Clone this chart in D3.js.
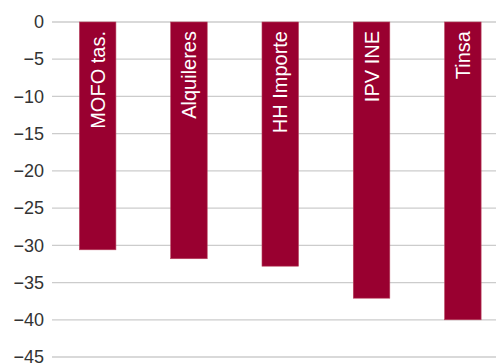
<!DOCTYPE html>
<html><head><meta charset="utf-8">
<script src="https://cdn.jsdelivr.net/npm/d3@7"></script>
<style>body{margin:0;background:#fff}svg{display:block}</style>
</head><body>
<svg id="c" width="496" height="363"></svg>
<script>
const categories = ["MOFO tas.", "Alquileres", "HH Importe", "IPV INE", "Tinsa"];
const values = [-30.6, -31.8, -32.8, -37.1, -40.0];
const yTicks = [0, -5, -10, -15, -20, -25, -30, -35, -40, -45];

const svg = d3.select("#c");
const W = 496;
const y = d3.scaleLinear().domain([0, -45]).range([22, 357]);
const x = d3.scaleBand().domain(categories).range([52, 508.5]).paddingInner(0.6).paddingOuter(0.3);

svg.append("g").selectAll("line").data(yTicks).join("line")
  .attr("x1", 52).attr("x2", W)
  .attr("y1", d => y(d)).attr("y2", d => y(d))
  .attr("stroke", "#cccccc").attr("stroke-width", 1.3);

const axis = d3.axisLeft(y).tickValues(yTicks).tickSize(0).tickPadding(0).tickFormat(d3.format("d"));
const ag = svg.append("g").attr("transform", "translate(44,0)").call(axis);
ag.select(".domain").remove();
ag.selectAll("text").attr("font-family", "Liberation Sans, Arial, sans-serif")
  .attr("font-size", 18).attr("fill", "#333");

svg.append("g").selectAll("rect").data(values).join("rect")
  .attr("x", (d, i) => x(categories[i]))
  .attr("width", x.bandwidth())
  .attr("y", y(0))
  .attr("height", d => y(d) - y(0))
  .attr("fill", "#990030")
  .attr("stroke", "#b8445f").attr("stroke-width", 0.6);

svg.append("g").selectAll("text").data(categories).join("text")
  .attr("transform", d => `translate(${x(d) + x.bandwidth() / 2},31) rotate(-90)`)
  .attr("text-anchor", "end").attr("dy", "0.36em")
  .attr("font-family", "Liberation Sans, Arial, sans-serif")
  .attr("font-size", 20).attr("fill", "#fff")
  .text(d => d);
</script>
</body></html>
